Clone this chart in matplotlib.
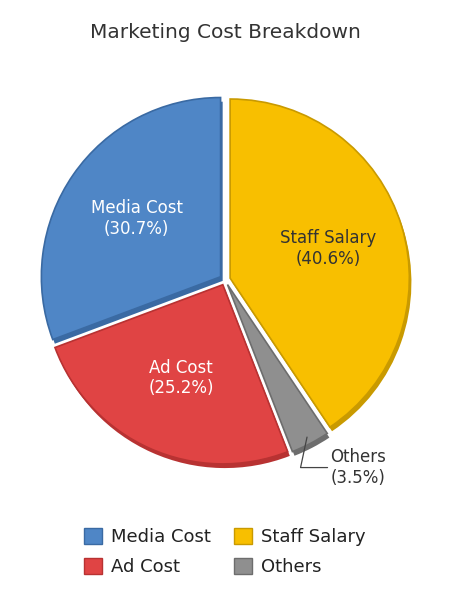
import numpy as np
import matplotlib.pyplot as plt
from matplotlib.patches import Patch
import matplotlib.patheffects as pe

labels = ['Media Cost', 'Ad Cost', 'Others', 'Staff Salary']
shares = [30.7, 25.2, 3.5, 40.6]
colors = ['#4f86c6', '#e04444', '#8f8f8f', '#f8bf00']
edges = ['#3a6aa3', '#b83232', '#6d6d6d', '#c99a00']
text_colors = ['white', 'white', '#333333', '#333333']
legend_order = [0, 1, 3, 2]

fig = plt.figure(figsize=(4.5, 6.03), dpi=100)
ax = fig.add_axes([0.05, 0.2, 0.9, 0.672])

wedges, _ = ax.pie(shares, colors=colors, startangle=90, counterclock=True,
                   explode=[0.03] * 4, radius=1.0,
                   wedgeprops=dict(linewidth=1.2))
for w, ec in zip(wedges, edges):
    w.set_edgecolor(ec)
    w.set_path_effects([pe.SimplePatchShadow(offset=(1.5, -3), shadow_rgbFace=ec, alpha=1.0),
                        pe.Normal()])

for i, w in enumerate(wedges):
    ang = np.deg2rad((w.theta1 + w.theta2) / 2)
    cx, cy = w.center
    txt = f'{labels[i]}\n({shares[i]}%)'
    if shares[i] < 10:
        x0 = cx + 0.96 * np.cos(ang)
        y0 = cy + 0.96 * np.sin(ang)
        ax.annotate(txt, xy=(x0, y0), xytext=(x0 + 0.13, y0 - 0.17),
                    fontsize=12, color='#333333', ha='left', va='center',
                    arrowprops=dict(arrowstyle='-', color='#444444', lw=0.9,
                                    connectionstyle='angle,angleA=0,angleB=78,rad=0',
                                    shrinkA=0, shrinkB=0))
    else:
        r = 0.57
        ax.text(cx + r * np.cos(ang), cy + r * np.sin(ang), txt,
                ha='center', va='center', fontsize=12, color=text_colors[i])

ax.set_xlim(-1.13, 1.13)
ax.set_ylim(-1.13, 1.13)
ax.set_aspect('equal')

fig.text(0.5, 1 - 32 / 603, 'Marketing Cost Breakdown', fontsize=14.5,
         color='#333333', ha='center', va='center')

handles = [Patch(facecolor=colors[i], edgecolor=edges[i], label=labels[i]) for i in legend_order]
fig.legend(handles=handles, ncol=2, loc='lower center', bbox_to_anchor=(0.5, 0.018),
           frameon=False, fontsize=13, handlelength=1.0, handleheight=1.0,
           handletextpad=0.5, labelspacing=0.65,
           columnspacing=1.3, labelcolor='#222222')

fig.savefig('out.png', dpi=100, facecolor='white')
